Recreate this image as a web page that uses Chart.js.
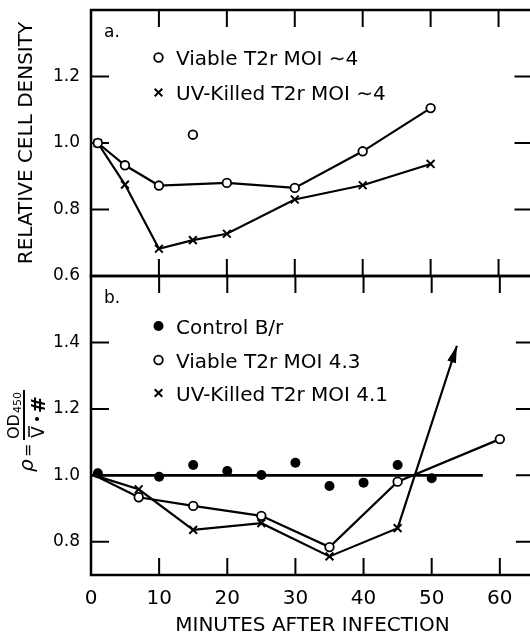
<!DOCTYPE html>
<html>
<head>
<meta charset="utf-8">
<script src="https://cdn.jsdelivr.net/npm/chart.js@4.4.1/dist/chart.umd.min.js"></script>
<style>
  html, body { margin: 0; padding: 0; background: #fff; overflow: hidden; width: 530px; height: 636px; }
  canvas { position: absolute; left: 0; }
  #chart-a { top: 0; }
  #chart-b { top: 266px; }
</style>
</head>
<body>
<canvas id="chart-a" width="540" height="290"></canvas>
<canvas id="chart-b" width="540" height="370"></canvas>
<script>
// Shared minute axis
const minuteTicks = [0, 10, 20, 30, 40, 50, 60];

// Panel a - relative cell density
const viableAMinutes = [1, 5, 10, 20, 30, 40, 50];
const viableADensity = [1.0, 0.933, 0.872, 0.88, 0.865, 0.975, 1.105];
const viableAOddMinutes = [15];
const viableAOddDensity = [1.025];
const uvAMinutes = [1, 5, 10, 15, 20, 30, 40, 50];
const uvADensity = [1.0, 0.875, 0.682, 0.708, 0.727, 0.83, 0.873, 0.937];
const densityTicks = [0.6, 0.8, 1.0, 1.2];

// Panel b - rho = OD450 / (mean V * #)
const controlMinutes = [1, 10, 15, 20, 25, 30, 35, 40, 45, 50];
const controlRho = [1.006, 0.996, 1.031, 1.013, 1.001, 1.038, 0.968, 0.978, 1.031, 0.991];
const controlLineMinutes = [0, 57.5];
const controlLineRho = [1.0, 1.0];
const viableBMinutes = [0.5, 7, 15, 25, 35, 45, 60];
const viableBRho = [1.0, 0.934, 0.908, 0.878, 0.784, 0.981, 1.109];
const uvBMinutes = [0.5, 7, 15, 25, 35, 45, 53.7];
const uvBRho = [1.0, 0.958, 0.836, 0.856, 0.756, 0.841, 1.39];
const rhoTicks = [0.8, 1.0, 1.2, 1.4];

const FONT = '"DejaVu Sans", sans-serif';
Chart.defaults.font.family = FONT;
Chart.defaults.color = '#000';

function toPoints(xs, ys) {
    return xs.map((x, i) => ({ x: x, y: ys[i] }));
}

// Open circle / x mark / filled dot styles
const openCircle = { pointStyle: 'circle', pointRadius: 4.3, pointBorderWidth: 1.8, pointBackgroundColor: '#fff', pointBorderColor: '#000' };
const xMark = { pointStyle: 'crossRot', pointRadius: 5.5, pointBorderWidth: 2, pointBorderColor: '#000' };
const filledDot = { pointStyle: 'circle', pointRadius: 5, pointBorderWidth: 0, pointBackgroundColor: '#000' };
const lineStyle = { showLine: true, borderColor: '#000', borderWidth: 2.2, tension: 0 };

// no extra room for edge labels, the layout padding fixes the plot box
function noEdgePadding(s) {
    s.paddingTop = 0; s.paddingBottom = 0; s.paddingLeft = 0; s.paddingRight = 0;
}

// Frame with inward ticks on all four sides
const framePlugin = {
    id: 'frame',
    beforeDatasetsDraw(chart) {
        const { ctx, chartArea: a, scales: { x, y } } = chart;
        const len = 17;
        ctx.save();
        ctx.strokeStyle = '#000';
        ctx.lineWidth = 2.5;
        ctx.strokeRect(a.left, a.top, a.right - a.left, a.bottom - a.top);
        ctx.lineWidth = 2;
        ctx.beginPath();
        minuteTicks.forEach(v => {
            if (v <= x.min || v >= x.max) return;
            const px = x.getPixelForValue(v);
            ctx.moveTo(px, a.top); ctx.lineTo(px, a.top + len);
            ctx.moveTo(px, a.bottom); ctx.lineTo(px, a.bottom - len);
        });
        y.ticks.forEach(t => {
            if (t.value <= y.min || t.value >= y.max) return;
            const py = y.getPixelForValue(t.value);
            ctx.moveTo(a.left, py); ctx.lineTo(a.left + 18, py);
            ctx.moveTo(a.right, py); ctx.lineTo(a.right - 18, py);
        });
        ctx.stroke();
        ctx.restore();
    }
};

// Arrow head at the end of a dataset flagged with arrowEnd
const arrowPlugin = {
    id: 'arrowEnd',
    afterDatasetsDraw(chart) {
        const ctx = chart.ctx;
        chart.data.datasets.forEach((ds, i) => {
            if (!ds.arrowEnd) return;
            const pts = chart.getDatasetMeta(i).data;
            const tip = pts[pts.length - 1], prev = pts[pts.length - 2];
            const ang = Math.atan2(tip.y - prev.y, tip.x - prev.x);
            const L = 17, W = 4.5;
            const bx = tip.x - L * Math.cos(ang), by = tip.y - L * Math.sin(ang);
            ctx.save();
            ctx.fillStyle = '#000';
            ctx.beginPath();
            ctx.moveTo(tip.x, tip.y);
            ctx.lineTo(bx + W * Math.sin(ang), by - W * Math.cos(ang));
            ctx.lineTo(bx - W * Math.sin(ang), by + W * Math.cos(ang));
            ctx.closePath();
            ctx.fill();
            ctx.restore();
        });
    }
};

function drawMarker(ctx, kind, x, y) {
    ctx.save();
    ctx.strokeStyle = '#000';
    ctx.fillStyle = '#000';
    if (kind === 'open') {
        ctx.lineWidth = 1.8;
        ctx.beginPath();
        ctx.arc(x, y, 4.3, 0, 2 * Math.PI);
        ctx.fillStyle = '#fff';
        ctx.fill();
        ctx.stroke();
    } else if (kind === 'filled') {
        ctx.beginPath();
        ctx.arc(x, y, 5, 0, 2 * Math.PI);
        ctx.fill();
    } else {
        ctx.lineWidth = 2;
        ctx.beginPath();
        ctx.moveTo(x - 3.8, y - 3.8); ctx.lineTo(x + 3.8, y + 3.8);
        ctx.moveTo(x + 3.8, y - 3.8); ctx.lineTo(x - 3.8, y + 3.8);
        ctx.stroke();
    }
    ctx.restore();
}

// Panel letter + legend
const decorPlugin = {
    id: 'decor',
    afterDraw(chart, args, opts) {
        const { ctx, chartArea: a } = chart;
        ctx.save();
        ctx.fillStyle = '#000';
        ctx.textBaseline = 'alphabetic';
        ctx.font = '17px ' + FONT;
        ctx.fillText(opts.letter, a.left + 13, a.top + 27);
        ctx.font = '20px ' + FONT;
        opts.legend.forEach(item => {
            drawMarker(ctx, item.kind, a.left + 67.5, a.top + item.dy);
            ctx.fillText(item.text, a.left + 85, a.top + item.dy + 7.5);
        });
        ctx.restore();
    }
};

// rho = OD450 / (V-bar . #) written sideways
const rhoTitlePlugin = {
    id: 'rhoTitle',
    afterDraw(chart) {
        const ctx = chart.ctx;
        ctx.save();
        ctx.translate(25, 206);
        ctx.rotate(-Math.PI / 2);
        ctx.fillStyle = '#000';
        ctx.strokeStyle = '#000';
        ctx.textBaseline = 'alphabetic';
        ctx.font = 'italic 20px ' + FONT;
        ctx.fillText('\u03C1', 0, 8);
        ctx.font = '16px ' + FONT;
        ctx.fillText('=', 15, 8);
        ctx.lineWidth = 2;
        ctx.beginPath();
        ctx.moveTo(32, -1); ctx.lineTo(82, -1);
        ctx.stroke();
        ctx.font = '16px ' + FONT;
        ctx.fillText('OD', 33, -6);
        ctx.font = '11px ' + FONT;
        ctx.fillText('450', 59, -4);
        ctx.font = '17px ' + FONT;
        ctx.fillText('V', 34, 19);
        ctx.lineWidth = 1.5;
        ctx.beginPath();
        ctx.moveTo(35, 4); ctx.lineTo(46, 4);
        ctx.stroke();
        ctx.beginPath();
        ctx.arc(53, 12, 2, 0, 2 * Math.PI);
        ctx.fill();
        ctx.font = 'bold 20px ' + FONT;
        ctx.fillText('#', 59, 20);
        ctx.restore();
    }
};

const baseX = {
    type: 'linear', min: 0, max: 65,
    afterBuildTicks: s => { s.ticks = minuteTicks.map(v => ({ value: v })); },
    grid: { display: false }, border: { display: false }
};

function yAxis(min, max, ticks, title) {
    return {
        type: 'linear', min: min, max: max,
        afterBuildTicks: s => { s.ticks = ticks.map(v => ({ value: v })); },
        afterFit: s => { s.width = 91; noEdgePadding(s); },
        grid: { display: false }, border: { display: false },
        ticks: { font: { size: 17 }, padding: 3, callback: v => v.toFixed(1) },
        title: title ? { display: true, text: title, font: { size: 20, lineHeight: 1 }, padding: { top: 17 } } : { display: false }
    };
}

const common = {
    responsive: false, animation: false, devicePixelRatio: 1, events: [],
    plugins: { legend: { display: false }, tooltip: { enabled: false } }
};

new Chart(document.getElementById('chart-a'), {
    type: 'scatter',
    data: {
        datasets: [
            Object.assign({ data: toPoints(viableAMinutes, viableADensity) }, lineStyle, openCircle),
            Object.assign({ data: toPoints(viableAOddMinutes, viableAOddDensity), showLine: false }, openCircle),
            Object.assign({ data: toPoints(uvAMinutes, uvADensity) }, lineStyle, xMark)
        ]
    },
    options: Object.assign({}, common, {
        layout: { padding: { top: 10, bottom: 14, right: 6, left: 0 } },
        scales: {
            x: Object.assign({}, baseX, { display: false }),
            y: yAxis(0.6, 1.4, densityTicks, 'RELATIVE CELL DENSITY')
        },
        plugins: Object.assign({}, common.plugins, {
            decor: {
                letter: 'a.',
                legend: [
                    { kind: 'open', text: 'Viable T2r MOI \u223C4', dy: 47.5 },
                    { kind: 'x', text: 'UV-Killed T2r MOI \u223C4', dy: 82.5 }
                ]
            }
        })
    }),
    plugins: [framePlugin, decorPlugin]
});

new Chart(document.getElementById('chart-b'), {
    type: 'scatter',
    data: {
        datasets: [
            Object.assign({ data: toPoints(controlMinutes, controlRho), showLine: false }, filledDot),
            Object.assign({ data: toPoints(viableBMinutes, viableBRho) }, lineStyle, openCircle,
                { pointRadius: ctx => ctx.dataIndex === 0 ? 0 : 4.3 }),
            Object.assign({ data: toPoints(uvBMinutes, uvBRho), arrowEnd: true }, lineStyle, xMark,
                { pointRadius: ctx => (ctx.dataIndex === 0 || ctx.dataIndex === uvBMinutes.length - 1) ? 0 : 5.5 }),
            Object.assign({ data: toPoints(controlLineMinutes, controlLineRho), pointRadius: 0 }, lineStyle, { borderWidth: 2.6 })
        ]
    },
    options: Object.assign({}, common, {
        layout: { padding: { top: 10, bottom: 0, right: 6, left: 0 } },
        scales: {
            x: Object.assign({}, baseX, {
                afterFit: s => { s.height = 61; noEdgePadding(s); },
                ticks: { font: { size: 20 }, padding: 4 },
                title: { display: true, text: 'MINUTES AFTER INFECTION', font: { size: 20, lineHeight: 1 }, padding: { top: 0, bottom: 0 } }
            }),
            y: yAxis(0.7, 1.6, rhoTicks, null)
        },
        plugins: Object.assign({}, common.plugins, {
            decor: {
                letter: 'b.',
                legend: [
                    { kind: 'filled', text: 'Control B/r', dy: 50 },
                    { kind: 'open', text: 'Viable T2r MOI 4.3', dy: 84 },
                    { kind: 'x', text: 'UV-Killed T2r MOI 4.1', dy: 117 }
                ]
            }
        })
    }),
    plugins: [framePlugin, decorPlugin, arrowPlugin, rhoTitlePlugin]
});
</script>
</body>
</html>
